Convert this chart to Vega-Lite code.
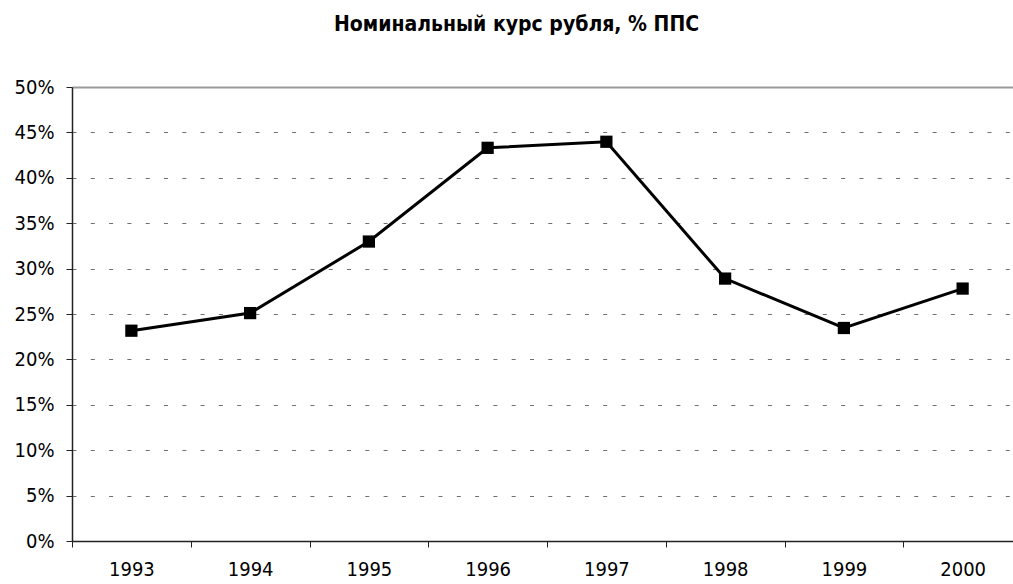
{
  "$schema": "https://vega.github.io/schema/vega-lite/v6.json",
  "width": 941,
  "height": 454,
  "autosize": "none",
  "padding": {"left": 72, "top": 87, "right": 0, "bottom": 43},
  "background": "white",
  "title": {
    "text": "Номинальный курс рубля, % ППС",
    "font": "DejaVu Sans Condensed",
    "fontSize": 21,
    "fontWeight": "bold",
    "color": "black",
    "anchor": "middle",
    "dx": -26,
    "offset": 42
  },
  "config": {
    "view": {"stroke": null},
    "font": "DejaVu Sans Condensed"
  },
  "data": {
    "values": [
      {"year": "1993", "value": 0.2316},
      {"year": "1994", "value": 0.251},
      {"year": "1995", "value": 0.3298},
      {"year": "1996", "value": 0.433},
      {"year": "1997", "value": 0.4397},
      {"year": "1998", "value": 0.289},
      {"year": "1999", "value": 0.2346},
      {"year": "2000", "value": 0.278}
    ]
  },
  "encoding": {
    "x": {
      "field": "year",
      "type": "ordinal",
      "scale": {"type": "band", "range": [0, 950], "paddingInner": 0, "paddingOuter": 0},
      "axis": {
        "title": null,
        "tickBand": "extent",
        "labelAngle": 0,
        "labelFont": "DejaVu Sans Condensed",
        "labelFontSize": 20,
        "labelColor": "black",
        "labelPadding": 12,
        "tickSize": 6,
        "tickColor": "#222222",
        "tickWidth": 1,
        "domainColor": "#222222",
        "domainWidth": 1.5,
        "grid": false
      }
    },
    "y": {
      "field": "value",
      "type": "quantitative",
      "scale": {"domain": [0, 0.5], "nice": false},
      "axis": {
        "title": null,
        "values": [0, 0.05, 0.1, 0.15, 0.2, 0.25, 0.3, 0.35, 0.4, 0.45, 0.5],
        "format": ".0%",
        "labelFont": "DejaVu Sans Condensed",
        "labelFontSize": 20,
        "labelColor": "black",
        "labelPadding": 12,
        "tickSize": 6,
        "tickColor": "#222222",
        "domainColor": "#222222",
        "domainWidth": 1.5,
        "grid": true,
        "gridColor": {"condition": {"test": "datum.value >= 0.5", "value": "#999999"}, "value": "#707070"},
        "gridWidth": {"condition": {"test": "datum.value >= 0.5", "value": 2}, "value": 1},
        "gridDash": {"condition": {"test": "datum.value >= 0.5", "value": []}, "value": [4, 14.3]}
      }
    }
  },
  "layer": [
    {"mark": {"type": "line", "color": "black", "strokeWidth": 3}},
    {"mark": {"type": "square", "color": "black", "filled": true, "opacity": 1, "size": 150}}
  ]
}
